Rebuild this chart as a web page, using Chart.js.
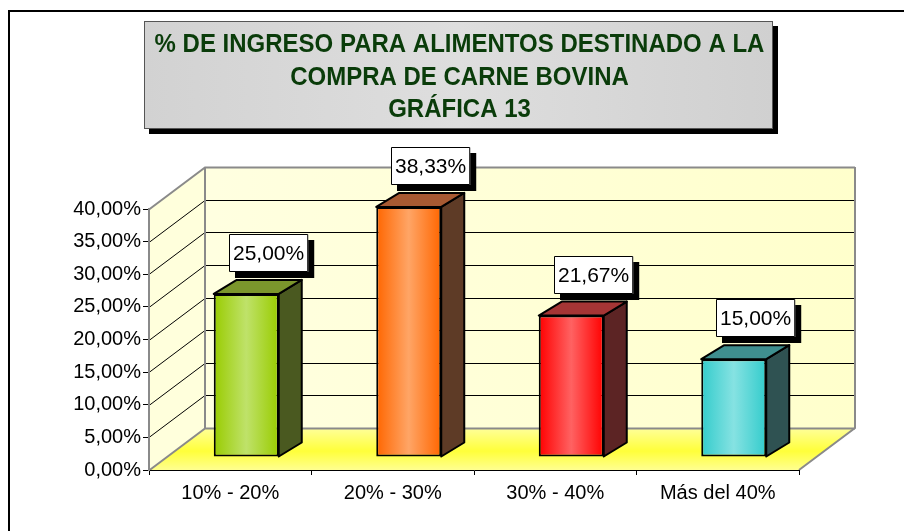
<!DOCTYPE html>
<html>
<head>
<meta charset="utf-8">
<script src="https://cdn.jsdelivr.net/npm/chart.js@4/dist/chart.umd.min.js"></script>
<style>
  html, body { margin: 0; padding: 0; background: #fff; }
  #wrap { width: 904px; height: 531px; }
</style>
</head>
<body>
<div id="wrap"><canvas id="carneChart" width="904" height="531"></canvas></div>
<script>
// data
var categories = ['10% - 20%', '20% - 30%', '30% - 40%', 'Más del 40%'];
var shares = [25.00, 38.33, 21.67, 15.00];
var titleLines = ['% DE INGRESO PARA ALIMENTOS DESTINADO A LA', 'COMPRA DE CARNE BOVINA', 'GRÁFICA 13'];

// styles
var faceColors  = ['#99cc00', '#ff6600', '#ff0000', '#33cccc'];
var lightColors = ['#bfe26a', '#ffa566', '#ff6262', '#86e2e2'];
var sideColors  = ['#4a5920', '#5e3b26', '#5c2424', '#2f5252'];
var topColors   = ['#7b962c', '#a85a32', '#a53535', '#3f8f8f'];

var FONT = '"Liberation Sans", Arial, sans-serif';
var WALL_DX = 56, WALL_DY = 42;     // depth of the back wall
var BAR_DX = 16, BAR_DY = 13;       // front face of bars sits a bit inside
var SIDE_DX = 23, SIDE_DY = 14;     // thickness of each bar

var canvas = document.getElementById('carneChart');

function fmt(v) {
    return v.toFixed(2).replace('.', ',') + '%';
}

function barGradient(c) {
    var i = c.dataIndex;
    var chart = c.chart;
    if (c.type !== 'data' || !chart.chartArea) return faceColors[i || 0];
    var xs = chart.scales.x;
    var half = (xs.width / categories.length) * 0.4 / 2;
    var cx = xs.getPixelForValue(i);
    var g = chart.ctx.createLinearGradient(cx - half, 0, cx + half, 0);
    g.addColorStop(0, faceColors[i]);
    g.addColorStop(0.5, lightColors[i]);
    g.addColorStop(1, faceColors[i]);
    return g;
}

var scenery = {
    id: 'scenery',
    beforeDraw: function (chart) {
        var ctx = chart.ctx;
        ctx.save();
        ctx.fillStyle = '#fff';
        ctx.fillRect(0, 0, chart.width, chart.height);
        // outer frame
        ctx.strokeStyle = '#000';
        ctx.lineWidth = 2;
        ctx.beginPath();
        ctx.moveTo(chart.width, 11);
        ctx.lineTo(9, 11);
        ctx.lineTo(9, chart.height);
        ctx.stroke();

        // title box
        var bx = 144, by = 21, bw = 629, bh = 108;
        ctx.fillStyle = '#000';
        ctx.fillRect(bx + 5, by + 5, bw, bh);
        var tg = ctx.createLinearGradient(bx, 0, bx + bw, 0);
        tg.addColorStop(0, '#d2d2d2');
        tg.addColorStop(0.5, '#dedede');
        tg.addColorStop(1, '#d0d0d0');
        ctx.fillStyle = tg;
        ctx.fillRect(bx, by, bw, bh);
        ctx.strokeStyle = '#555';
        ctx.lineWidth = 1;
        ctx.strokeRect(bx + 0.5, by + 0.5, bw - 1, bh - 1);
        ctx.fillStyle = '#0a3c0a';
        ctx.textAlign = 'center';
        ctx.textBaseline = 'alphabetic';
        ctx.font = 'bold 24px ' + FONT;
        for (var i = 0; i < titleLines.length; i++) {
            ctx.save();
            ctx.translate(bx + bw / 2 + 1, 52 + i * 32.5);
            ctx.scale(1, 1.06);
            ctx.fillText(titleLines[i], 0, 0);
            ctx.restore();
        }

        // walls and floor
        var xs = chart.scales.x, ys = chart.scales.y;
        var L = xs.left, R = xs.right;
        var y0 = ys.getPixelForValue(0), yTop = ys.getPixelForValue(ys.max);

        var fg = ctx.createLinearGradient(0, y0 - WALL_DY, 0, y0);
        fg.addColorStop(0, '#ffff9a');
        fg.addColorStop(0.55, '#ffff3a');
        fg.addColorStop(1, '#ffff90');
        ctx.fillStyle = fg;
        ctx.beginPath();
        ctx.moveTo(L, y0);
        ctx.lineTo(R, y0);
        ctx.lineTo(R + WALL_DX, y0 - WALL_DY);
        ctx.lineTo(L + WALL_DX, y0 - WALL_DY);
        ctx.closePath();
        ctx.fill();

        var wg = ctx.createLinearGradient(L, 0, R + WALL_DX, 0);
        wg.addColorStop(0, '#ffffe2');
        wg.addColorStop(1, '#ffffcc');
        ctx.fillStyle = wg;
        ctx.fillRect(L + WALL_DX, yTop - WALL_DY, R - L, y0 - yTop);
        ctx.fillStyle = '#ffffdc';
        ctx.beginPath();
        ctx.moveTo(L, yTop);
        ctx.lineTo(L + WALL_DX, yTop - WALL_DY);
        ctx.lineTo(L + WALL_DX, y0 - WALL_DY);
        ctx.lineTo(L, y0);
        ctx.closePath();
        ctx.fill();

        // grid lines on the walls
        ctx.lineWidth = 1;
        ys.ticks.forEach(function (t) {
            var yy = Math.round(ys.getPixelForValue(t.value)) + 0.5;
            var edge = (t.value === 0 || t.value === ys.max);
            ctx.strokeStyle = edge ? '#8a8a8a' : '#000';
            ctx.lineWidth = edge ? 2 : 1;
            ctx.beginPath();
            ctx.moveTo(L, yy);
            ctx.lineTo(L + WALL_DX, yy - WALL_DY);
            ctx.lineTo(R + WALL_DX, yy - WALL_DY);
            ctx.stroke();
        });
        // wall edges
        ctx.strokeStyle = '#8a8a8a';
        ctx.lineWidth = 2;
        ctx.beginPath();
        ctx.moveTo(L + WALL_DX, yTop - WALL_DY);
        ctx.lineTo(L + WALL_DX, y0 - WALL_DY);
        ctx.moveTo(R + WALL_DX, yTop - WALL_DY);
        ctx.lineTo(R + WALL_DX, y0 - WALL_DY);
        ctx.lineTo(R, y0);
        ctx.stroke();
        ctx.restore();
    },
    beforeDatasetDraw: function (chart) {
        chart.ctx.save();
        chart.ctx.translate(BAR_DX, -BAR_DY);
    },
    afterDatasetDraw: function (chart, args) {
        var ctx = chart.ctx;
        var bars = args.meta.data;
        ctx.lineWidth = 2;
        ctx.strokeStyle = '#000';
        ctx.lineJoin = 'round';
        bars.forEach(function (el, i) {
            var l = el.x - el.width / 2, r = el.x + el.width / 2;
            // side face
            ctx.fillStyle = sideColors[i];
            ctx.beginPath();
            ctx.moveTo(r, el.y);
            ctx.lineTo(r + SIDE_DX, el.y - SIDE_DY);
            ctx.lineTo(r + SIDE_DX, el.base - SIDE_DY);
            ctx.lineTo(r, el.base);
            ctx.closePath();
            ctx.fill();
            ctx.stroke();
            // top face
            var tg = ctx.createLinearGradient(l, 0, r + SIDE_DX, 0);
            tg.addColorStop(0, topColors[i]);
            tg.addColorStop(0.6, lightColors[i]);
            tg.addColorStop(1, topColors[i]);
            ctx.fillStyle = topColors[i];
            ctx.beginPath();
            ctx.moveTo(l, el.y);
            ctx.lineTo(l + SIDE_DX, el.y - SIDE_DY);
            ctx.lineTo(r + SIDE_DX, el.y - SIDE_DY);
            ctx.lineTo(r, el.y);
            ctx.closePath();
            ctx.fill();
            ctx.stroke();
        });
        // value labels
        ctx.font = '21px ' + FONT;
        ctx.textAlign = 'center';
        ctx.textBaseline = 'middle';
        bars.forEach(function (el, i) {
            var txt = fmt(shares[i]);
            var w = ctx.measureText(txt).width + 8, h = 38;
            var cx = el.x + 22, bottom = el.y - 22;
            var x0 = Math.round(cx - w / 2), y0 = Math.round(bottom - h);
            ctx.fillStyle = '#000';
            ctx.fillRect(x0 + 6, y0 + 6, w, h);
            ctx.fillStyle = '#fff';
            ctx.fillRect(x0, y0, w, h);
            ctx.lineWidth = 1;
            ctx.strokeStyle = '#000';
            ctx.strokeRect(x0 + 0.5, y0 + 0.5, w - 1, h - 1);
            ctx.fillStyle = '#000';
            ctx.fillText(txt, x0 + w / 2, y0 + h / 2 + 1);
        });
        ctx.restore();
    }
};

var myBarChart = new Chart(canvas, {
    type: 'bar',
    data: {
        labels: categories,
        datasets: [{
            label: '% de ingreso',
            data: shares,
            backgroundColor: barGradient,
            borderColor: '#000',
            borderWidth: 2,
            borderSkipped: false,
            barPercentage: 0.4,
            categoryPercentage: 1,
            clip: false
        }]
    },
    options: {
        responsive: false,
        animation: false,
        events: [],
        layout: { padding: { left: 0, top: 209, right: 105, bottom: 0 } },
        plugins: {
            legend: { display: false },
            title: { display: false },
            tooltip: { enabled: false }
        },
        scales: {
            x: {
                afterFit: function (s) { s.height = 61; },
                border: { color: '#000', width: 1 },
                grid: { display: true, drawOnChartArea: false, color: '#000', tickLength: 5, offset: true },
                ticks: { color: '#000', font: { family: FONT, size: 20 }, padding: 6, maxRotation: 0 }
            },
            y: {
                min: 0,
                max: 40,
                afterFit: function (s) { s.width = 149; },
                border: { color: '#8a8a8a', width: 2 },
                grid: { display: true, drawOnChartArea: false, color: '#000', tickLength: 6 },
                ticks: {
                    stepSize: 5,
                    color: '#000',
                    padding: 2,
                    font: { family: FONT, size: 20 },
                    callback: function (v) { return fmt(v); }
                }
            }
        }
    },
    plugins: [scenery]
});
</script>
</body>
</html>
